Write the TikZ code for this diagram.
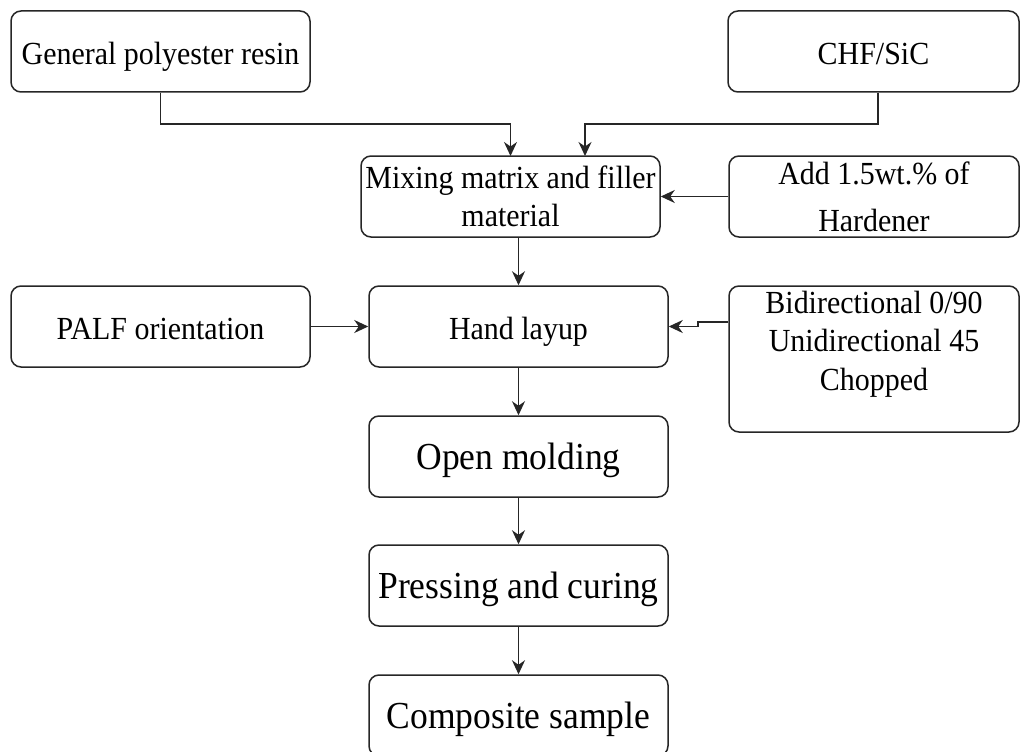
\documentclass[tikz,border=0pt]{standalone}
\usepackage{fontspec}
\setmainfont{Liberation Serif}[FakeStretch=0.93]
\usetikzlibrary{arrows.meta,calc}
\begin{document}
\begin{tikzpicture}[x=1pt,y=1pt,
  boxbase/.style={draw=black!85,line width=1.5pt,rounded corners=10pt,fill=white,
    minimum height=81pt,inner sep=0pt},
  box/.style={boxbase,text height=26pt,text depth=0pt,font=\fontsize{32.2}{38}\selectfont},
  mbox/.style={boxbase,align=center},
  bigbox/.style={boxbase,text height=26pt,text depth=0pt,font=\fontsize{38.2}{43}\selectfont},
  arr/.style={draw=black!85,line width=1.5pt,-{Stealth[length=14pt,width=13pt,inset=4.5pt]}}]
\useasboundingbox (0,0) rectangle (1021,-752);
\node[box,minimum width=299pt] (gpr) at (160.5,-51.5) {General polyester resin};
\node[box,minimum width=291pt] (chf) at (873.5,-51.5) {CHF/SiC};
\node[mbox,minimum width=299pt,font=\fontsize{32.2}{38}\selectfont] (mix) at (510.5,-196.5) {Mixing matrix and filler\\material};
\node[mbox,minimum width=290pt,font=\fontsize{32.2}{45}\selectfont] (add) at (874,-196.5) {Add 1.5wt.\% of\\[2pt]Hardener};
\node[box,minimum width=299pt] (palf) at (160.5,-326.5) {PALF orientation};
\node[box,minimum width=299pt] (hand) at (518.5,-326.5) {Hand layup};
\node[boxbase,minimum width=290pt,minimum height=146pt] (bi) at (874,-359) {};
\node[font=\fontsize{32.2}{38.5}\selectfont,align=center,inner sep=0pt] (bitext) at (874,-344) {Bidirectional 0/90\\Unidirectional 45\\Chopped};
\node[bigbox,minimum width=299pt] (open) at (518.5,-456.5) {Open molding};
\node[bigbox,minimum width=299pt] (press) at (518.5,-585.5) {Pressing and curing};
\node[bigbox,minimum width=299pt] (comp) at (518.5,-715.5) {Composite sample};
\coordinate (j1) at (160.5,-124);
\coordinate (j2) at (878,-124);
\coordinate (m2) at (585,-156);
\coordinate (m1) at (510.5,-156);
\draw[arr] (gpr.south) -- (j1) -| (m1);
\draw[arr] ([xshift=4.5pt]chf.south) -- (j2) -| (m2);
\draw[arr] (add.west) -- (mix.east);
\draw[arr] (hand.north |- mix.south) -- (hand.north);
\draw[arr] (palf.east) -- (hand.west);
\coordinate (b1) at (698,-322);
\coordinate (b2) at (698,-326.5);
\draw[arr] (bi.west |- b1) -- (b1) -- (b2) -- (hand.east);
\draw[arr] (hand.south) -- (open.north);
\draw[arr] (open.south) -- (press.north);
\draw[arr] (press.south) -- (comp.north);
\end{tikzpicture}
\end{document}
